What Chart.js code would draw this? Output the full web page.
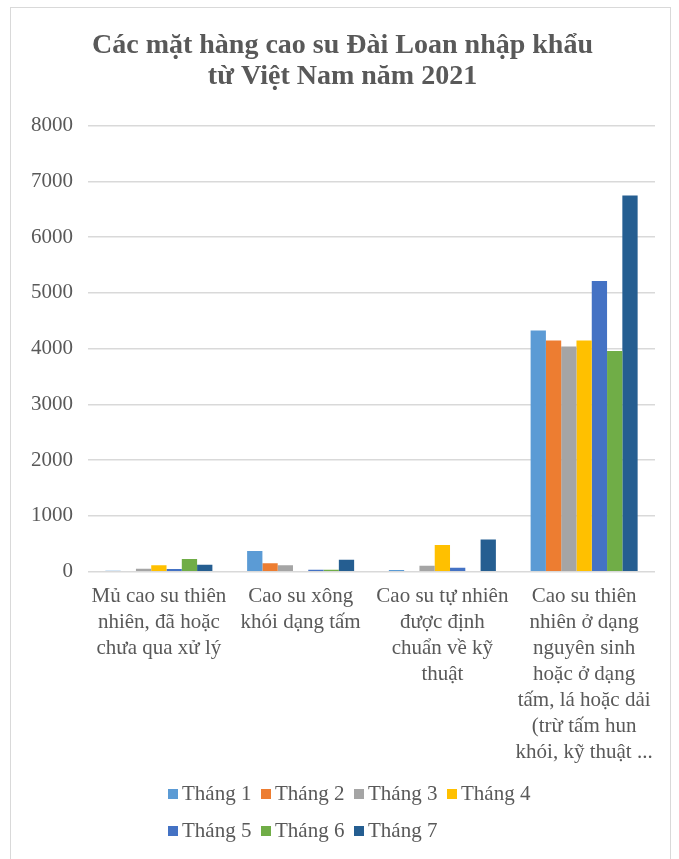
<!DOCTYPE html>
<html>
<head>
<meta charset="utf-8">
<script src="https://cdn.jsdelivr.net/npm/chart.js@4"></script>
<style>
    body { margin: 0; background: #fff; }
    #wrap { position: relative; width: 679px; height: 859px; }
    #frame { position: absolute; left: 10px; top: 7px; width: 661px; height: 860px; border: 1px solid #d9d9d9; box-sizing: border-box; }
    #chart { position: absolute; left: 0; top: 0; }
    #legend { position: absolute; left: 168px; top: 775px; display: grid; grid-template-columns: repeat(4, 93px); row-gap: 0; }
    .item { display: flex; align-items: center; height: 37px; font: 21px "Liberation Serif", "Times New Roman", serif; color: #595959; white-space: nowrap; }
    .box { width: 10px; height: 10px; margin-right: 4px; }
</style>
</head>
<body>
<div id="wrap">
    <div id="frame"></div>
    <canvas id="chart" width="679" height="859"></canvas>
    <div id="legend"></div>
</div>
<script>
// Product categories (x axis), split into lines like the original
const categories = [
    ['Mủ cao su thiên', 'nhiên, đã hoặc', 'chưa qua xử lý'],
    ['Cao su xông', 'khói dạng tấm'],
    ['Cao su tự nhiên', 'được định', 'chuẩn về kỹ', 'thuật'],
    ['Cao su thiên', 'nhiên ở dạng', 'nguyên sinh', 'hoặc ở dạng', 'tấm, lá hoặc dải', '(trừ tấm hun', 'khói, kỹ thuật ...']
];

// Monthly values for each category
const thang1 = [18, 371, 30, 4328];
const thang2 = [12, 150, 0, 4149];
const thang3 = [54, 114, 108, 4041];
const thang4 = [114, 0, 478, 4149];
const thang5 = [48, 36, 72, 5214];
const thang6 = [227, 36, 0, 3958];
const thang7 = [126, 215, 580, 6750];

const seriesNames = ['Tháng 1', 'Tháng 2', 'Tháng 3', 'Tháng 4', 'Tháng 5', 'Tháng 6', 'Tháng 7'];
const seriesData = [thang1, thang2, thang3, thang4, thang5, thang6, thang7];
const seriesColors = ['#5B9BD5', '#ED7D31', '#A5A5A5', '#FFC000', '#4472C4', '#70AD47', '#255E91'];

const yMax = 8000;
const yStep = 1000;

const textColor = '#595959';
const fontFamily = '"Liberation Serif", "Times New Roman", serif';

// Build the legend as HTML so it can use a 4-column grid like Excel
const htmlLegend = {
    id: 'htmlLegend',
    afterUpdate(chart) {
        const box = document.getElementById('legend');
        box.innerHTML = '';
        const items = chart.options.plugins.legend.labels.generateLabels(chart);
        items.forEach(item => {
            const div = document.createElement('div');
            div.className = 'item';
            const sw = document.createElement('span');
            sw.className = 'box';
            sw.style.background = item.fillStyle;
            const txt = document.createElement('span');
            txt.textContent = item.text;
            div.appendChild(sw);
            div.appendChild(txt);
            box.appendChild(div);
        });
    }
};

const ctx = document.getElementById('chart').getContext('2d');

new Chart(ctx, {
    type: 'bar',
    data: {
        labels: categories,
        datasets: seriesNames.map((name, i) => ({
            label: name,
            data: seriesData[i],
            backgroundColor: seriesColors[i],
            borderWidth: 0,
            categoryPercentage: 0.755,
            barPercentage: 1
        }))
    },
    options: {
        responsive: false,
        animation: false,
        layout: {
            padding: { left: 30, right: 24, top: 0, bottom: 81 }
        },
        plugins: {
            legend: { display: false },
            tooltip: { enabled: false },
            title: {
                display: true,
                text: ['Các mặt hàng cao su Đài Loan nhập khẩu', 'từ Việt Nam năm 2021'],
                color: textColor,
                font: { family: fontFamily, size: 28, weight: 'bold', lineHeight: 1.12 },
                padding: { top: 30, bottom: 33 }
            }
        },
        scales: {
            x: {
                grid: { display: false, drawTicks: false },
                border: { display: false },
                ticks: {
                    color: textColor,
                    font: { family: fontFamily, size: 21, lineHeight: 1.24 },
                    maxRotation: 0,
                    autoSkip: false,
                    padding: 12
                }
            },
            y: {
                min: 0,
                max: yMax,
                grid: { color: '#d9d9d9', lineWidth: 1.5, drawTicks: false },
                border: { display: false },
                afterFit: scale => { scale.width = 58; },
                ticks: {
                    stepSize: yStep,
                    color: textColor,
                    font: { family: fontFamily, size: 21 },
                    padding: 15,
                    callback: value => String(value)
                }
            }
        }
    },
    plugins: [htmlLegend]
});
</script>
</body>
</html>
